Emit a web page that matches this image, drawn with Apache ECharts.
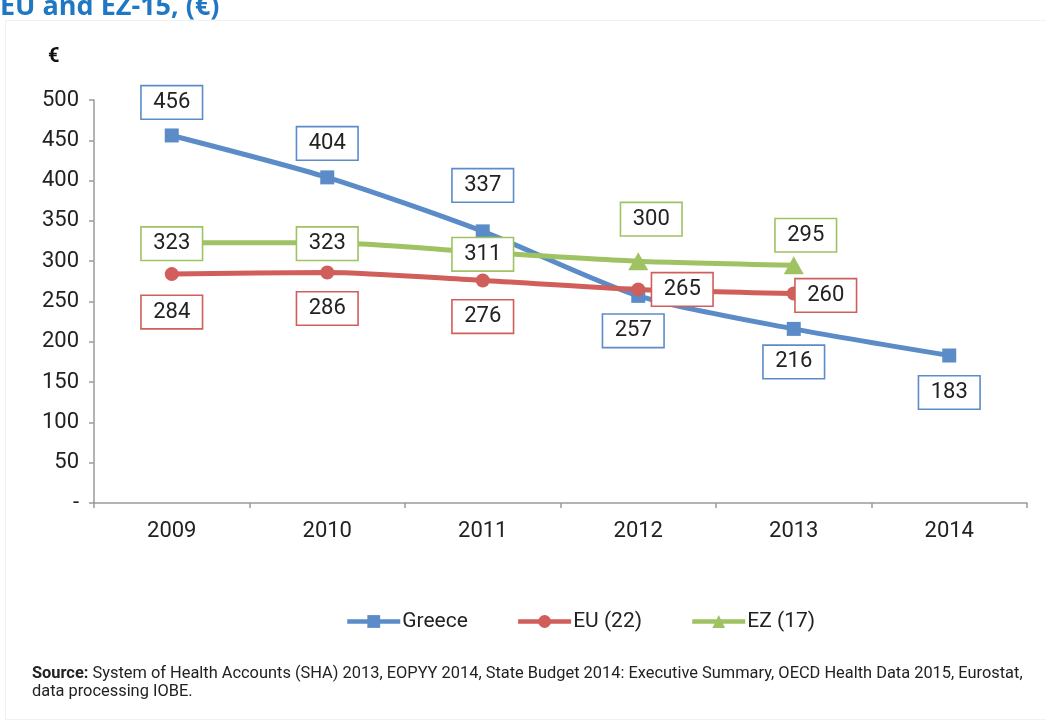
<!DOCTYPE html>
<html>
<head>
<meta charset="utf-8">
<script src="https://cdn.jsdelivr.net/npm/echarts@6/dist/echarts.min.js"></script>
<style>
  html, body { margin: 0; padding: 0; background: #fff; overflow: hidden; }
  #wrap { position: relative; width: 1046px; height: 728px; }
  #frame { position: absolute; left: 5px; top: 20px; width: 1060px; height: 698px; border: 1px solid #f1f1f1; }
  #chart { position: absolute; left: 0; top: 0; width: 1046px; height: 728px; }
  #title { position: absolute; left: 0; top: -9px; font-family: "Open Sans", "Liberation Sans", sans-serif; font-weight: bold; font-size: 27px; line-height: 27px; color: #1f78c1; white-space: nowrap; }
  #source { position: absolute; left: 32px; top: 664px; width: 1004px; font-family: "Roboto", sans-serif; font-size: 16.4px; line-height: 18px; color: #222; }
  #source b { font-weight: bold; }
</style>
</head>
<body>
<div id="wrap">
  <div id="frame"></div>
  <div id="chart"></div>
  <div id="title">EU and EZ-15, (€)</div>
  <div id="source"><b>Source:</b> System of Health Accounts (SHA) 2013, EOPYY 2014, State Budget 2014: Executive Summary, OECD Health Data 2015, Eurostat, data processing IOBE.</div>
</div>
<script>
document.addEventListener('DOMContentLoaded', () => {
    // 數據
    const years = ['2009', '2010', '2011', '2012', '2013', '2014'];
    const greece = [456, 404, 337, 257, 216, 183];
    const eu22 = [284, 286, 276, 265, 260];
    const ez17 = [323, 323, 311, 300, 295];
    const yTicks = [0, 50, 100, 150, 200, 250, 300, 350, 400, 450, 500];

    const font = '"Roboto", sans-serif';
    const blue = '#5b8cc8';
    const red = '#d05e5b';
    const green = '#9fc263';

    // label placement per point (dx, dy from the marker)
    const greeceOff = [[0, -33], [0, -34], [0, -46], [-5, 35], [0, 33], [0, 37]];
    const euOff = [[0, 38], [0, 36], [0, 36], [44, 0], [32, 2]];
    const ezOff = [[0, 1], [0, 1], [0, 2], [13, -42], [12, -30]];

    const boxLabel = (color) => ({
        show: true,
        position: 'inside',
        color: '#222',
        fontFamily: font,
        fontSize: 22,
        backgroundColor: '#fff',
        borderColor: color,
        borderWidth: 1.6,
        width: 38,
        height: 20,
        align: 'center',
        verticalAlign: 'middle',
        padding: [6, 11]
    });

    const withOffsets = (vals, offs) => vals.map((v, i) => ({
        value: v,
        label: { offset: offs[i] }
    }));

    const chart = echarts.init(document.getElementById('chart'));

    chart.setOption({
        animation: false,
        grid: { left: 94, right: 19, top: 100, bottom: 225 },
        graphic: [{
            type: 'text',
            left: 48,
            top: 47,
            style: { text: '€', font: 'bold 20px ' + font, fill: '#111' }
        }],
        legend: {
            left: 340,
            top: 606,
            itemWidth: 53,
            itemHeight: 16,
            itemGap: 48,
            lineStyle: { width: 4.5 },
            textStyle: { fontFamily: font, fontSize: 21, color: '#222', padding: [0, 0, 0, -3] },
            data: ['Greece', 'EU (22)', 'EZ (17)']
        },
        xAxis: {
            type: 'category',
            data: years,
            boundaryGap: true,
            axisLine: { lineStyle: { color: '#9a9a9a', width: 1.5 } },
            axisTick: { show: true, length: 5, lineStyle: { color: '#9a9a9a', width: 1.5 } },
            axisLabel: { fontFamily: font, fontSize: 22, color: '#222', margin: 17 }
        },
        yAxis: {
            type: 'value',
            min: 0,
            max: 500,
            interval: 50,
            splitLine: { show: false },
            axisLine: { show: true, lineStyle: { color: '#9a9a9a', width: 1.5 } },
            axisTick: { show: true, length: 5, lineStyle: { color: '#9a9a9a', width: 1.5 } },
            axisLabel: {
                fontFamily: font, fontSize: 22, color: '#222', margin: 15,
                formatter: (v) => yTicks.indexOf(v) === 0 ? '-' : String(v)
            }
        },
        series: [
            {
                name: 'Greece',
                type: 'line',
                smooth: 0.25,
                data: withOffsets(greece, greeceOff),
                symbol: 'rect',
                symbolSize: 14,
                lineStyle: { color: blue, width: 5 },
                itemStyle: { color: blue },
                label: boxLabel(blue)
            },
            {
                name: 'EU (22)',
                type: 'line',
                smooth: 0.25,
                data: withOffsets(eu22, euOff),
                symbol: 'circle',
                symbolSize: 14,
                lineStyle: { color: red, width: 5 },
                itemStyle: { color: red },
                label: boxLabel(red)
            },
            {
                name: 'EZ (17)',
                type: 'line',
                smooth: 0.25,
                data: withOffsets(ez17, ezOff),
                symbol: 'triangle',
                symbolSize: [20, 18],
                lineStyle: { color: green, width: 5 },
                itemStyle: { color: green },
                label: boxLabel(green)
            }
        ]
    });
});
</script>
</body>
</html>
